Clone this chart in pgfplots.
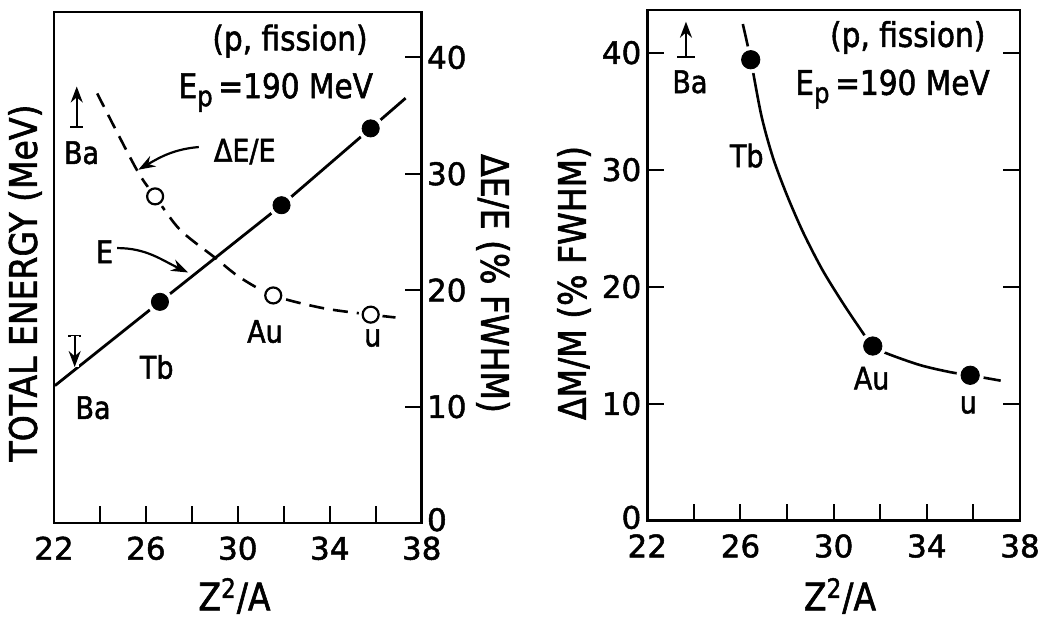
\documentclass[border=0pt]{standalone}
\usepackage{fontspec}
\setmainfont{DejaVu Sans}[FakeStretch=0.87, FakeBold=1.6]
\newfontfamily\tickfont{DejaVu Sans}[FakeBold=1.6]
\usepackage{pgfplots}
\pgfplotsset{compat=1.18}
\usetikzlibrary{arrows.meta}
\newcommand\labfont{\fontsize{19}{22}\selectfont}
\newcommand\txtfont{\fontsize{17}{20}\selectfont}
\newcommand\elfont{\fontsize{15.5}{18}\selectfont}
\newcommand\tkfont{\tickfont\fontsize{15.5}{18}\selectfont}
\pgfplotsset{
  myaxis/.style={
    scale only axis, clip=false,
    xmin=22, xmax=38, ymin=0,
    xtick={22,24,...,38}, xticklabels={22,,26,,30,,34,,38},
    ytick={0,10,20,30,40}, yticklabels={\raisebox{3.5pt}{0},10,20,30,40},
    xtick pos=left,
    tick align=inside,
    major tick length=8.5pt,
    axis line style={line width=1.4pt},
    tick style={black, line width=1pt},
    ticklabel style={font=\tkfont, inner sep=1pt},
    xticklabel style={yshift=-5.6pt},
  }
}
\tikzset{barr/.style={line width=1.1pt, -{Stealth[length=8pt,width=6pt]}},
         carr/.style={line width=1.1pt, -{Stealth[length=8.5pt,width=6pt]}}}
\begin{document}
\begin{tikzpicture}
\path[use as bounding box] (0,0) rectangle (521.5pt,308.5pt);
% ---------------- left panel ----------------
\begin{axis}[myaxis,
  at={(27pt,47pt)}, anchor=south west,
  width=183.85pt, height=255.5pt, ymax=43.9,
  ytick pos=right, yticklabel pos=right,
  yticklabel style={xshift=1.5pt}]
% E (total energy)
\addplot[line width=1.4pt] coordinates {(22.04,11.8) (26.61,19.0) (31.9,27.3) (35.78,33.9) (37.3,36.5)};
% Delta E / E
\addplot[line width=1.3pt, smooth, dash pattern=on 7.5pt off 4.5pt] coordinates {
 (23.88,36.9) (25.6,30.35) (26.4,28.06) (27.48,25.2) (29.0,22.8) (30.09,21.1)
 (31.54,19.55) (33.7,18.46) (35.78,17.9) (36.9,17.65)};
% gaps and markers
\addplot[only marks, mark=*, mark size=6.3pt, mark options={draw=white, fill=white}] coordinates {(26.61,19.0) (31.9,27.3) (35.78,33.9)};
\addplot[only marks, mark=*, mark size=4.3pt, mark options={draw=black, fill=black}] coordinates {(26.61,19.0) (31.9,27.3) (35.78,33.9)};
\addplot[only marks, mark=*, mark size=5.8pt, mark options={draw=white, fill=white}] coordinates {(26.4,28.06) (31.54,19.55) (35.78,17.9)};
\addplot[only marks, mark=*, mark size=4pt, mark options={draw=black, fill=white, line width=1.1pt}] coordinates {(26.4,28.06) (31.54,19.55) (35.78,17.9)};
% Ba limits
\draw[line width=1.1pt] (axis cs:22.62,16.1) -- (axis cs:23.18,16.1);
\draw[barr, preaction={draw=white, line width=4pt, -}] (axis cs:22.9,16.1) -- (axis cs:22.9,13.4);
\draw[line width=1.1pt] (axis cs:22.71,34.0) -- (axis cs:23.27,34.0);
\draw[barr] (axis cs:22.99,34.0) -- (axis cs:22.99,37.5);
% labels
\node[font=\elfont] at (axis cs:23.2,31.8) {Ba};
\node[font=\elfont] at (axis cs:23.7,9.9) {Ba};
\node[font=\elfont] at (axis cs:26.47,13.4) {Tb};
\node[font=\elfont] at (axis cs:31.18,16.45) {Au};
\node[font=\elfont] at (axis cs:35.87,15.9) {u};
\node[font=\elfont] at (axis cs:24.2,23.3) {E};
\node[font=\elfont] at (axis cs:30.3,31.9) {ΔE/E};
\draw[carr] (axis cs:28.3,32.3) to[out=185,in=30] (axis cs:25.67,30.35);
\draw[carr] (axis cs:24.75,23.62) to[out=0,in=155] (axis cs:27.84,21.52);
\node[font=\txtfont, anchor=base] at (axis cs:32.27,40.6) {(p, fission)};
\node[font=\txtfont, anchor=base] at (axis cs:31.65,36.5) {E\raisebox{-4pt}{\fontsize{14}{14}\selectfont p}\,=190 MeV};
\end{axis}
% ---------------- right panel ----------------
\begin{axis}[myaxis,
  at={(323.65pt,48.15pt)}, anchor=south west,
  width=186.35pt, height=255.35pt, ymax=43.65,
  ytick pos=both, yticklabel pos=left,
  yticklabel style={xshift=-1.8pt}]
\addplot[line width=1.3pt, smooth] coordinates {
 (26.1,42.45) (26.44,39.4) (26.9,34.6) (27.4,31.0) (28.0,27.8) (28.7,24.6) (29.5,21.5)
 (30.3,18.9) (31.0,16.8) (31.68,14.93) (32.28,14.3) (33.71,13.3) (35.0,12.7) (35.86,12.43) (37.17,11.97)};
\addplot[only marks, mark=*, mark size=6.6pt, mark options={draw=white, fill=white}] coordinates {(26.44,39.4) (31.68,14.93) (35.86,12.43)};
\addplot[only marks, mark=*, mark size=4.6pt, mark options={draw=black, fill=black}] coordinates {(26.44,39.4) (31.68,14.93) (35.86,12.43)};
\draw[line width=1.1pt] (axis cs:23.29,39.6) -- (axis cs:24.03,39.6);
\draw[barr] (axis cs:23.66,39.6) -- (axis cs:23.66,42.65);
\node[font=\elfont] at (axis cs:23.83,37.5) {Ba};
\node[font=\elfont] at (axis cs:26.27,31.2) {Tb};
\node[font=\elfont] at (axis cs:31.63,12.17) {Au};
\node[font=\elfont] at (axis cs:35.78,9.9) {u};
\node[font=\txtfont, anchor=base] at (axis cs:33.18,40.5) {(p, fission)};
\node[font=\txtfont, anchor=base] at (axis cs:32.53,36.4) {E\raisebox{-4pt}{\fontsize{14}{14}\selectfont p}\,=190 MeV};
\end{axis}
% axis titles
\node[font=\labfont, rotate=90] at (12.5pt,167pt) {TOTAL ENERGY (MeV)};
\node[font=\labfont, rotate=-90] at (246.5pt,166.75pt) {ΔE/E (\% FWHM)};
\node[font=\labfont, rotate=90] at (287pt,167pt) {ΔM/M (\% FWHM)};
\node[font=\labfont] at (117.25pt,10.5pt) {Z\textsuperscript{2}/A};
\node[font=\labfont] at (420pt,10.5pt) {Z\textsuperscript{2}/A};
\end{tikzpicture}
\end{document}
